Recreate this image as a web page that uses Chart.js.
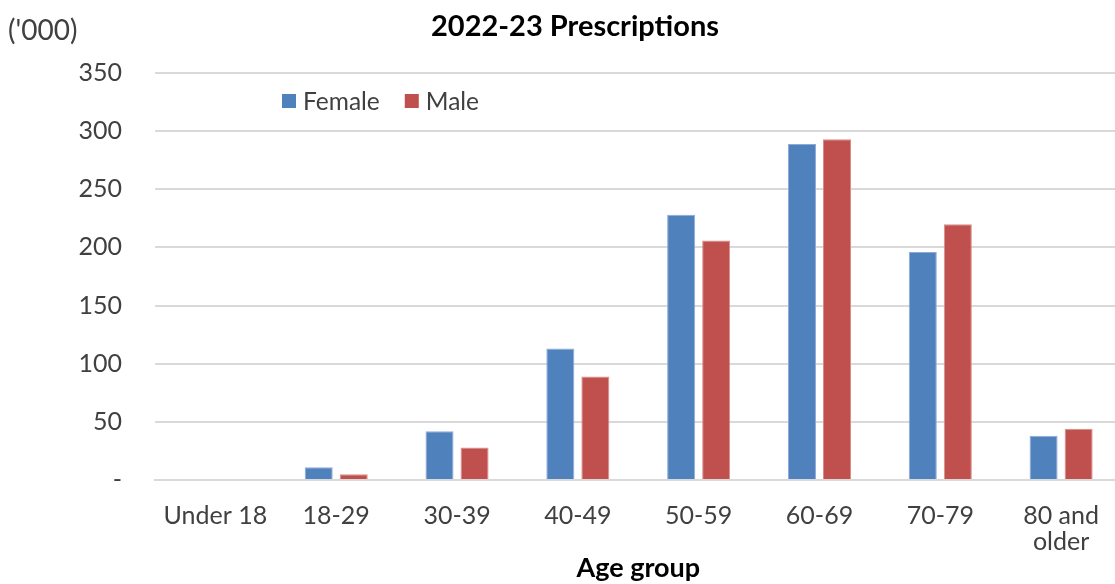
<!DOCTYPE html>
<html>
<head>
<meta charset="utf-8">
<script src="https://cdn.jsdelivr.net/npm/chart.js@4"></script>
<style>
  html, body { margin: 0; background: #fff; overflow: hidden; }
</style>
</head>
<body>
<canvas id="chart" width="1122" height="584"></canvas>
<script>
// 2022-23 prescriptions by age group ('000)
const ageGroups = ["Under 18", "18-29", "30-39", "40-49", "50-59", "60-69", "70-79", ["80 and", "older"]];
const female = [0, 11, 42, 113, 228, 289, 196, 38];
const male = [0, 5, 28, 89, 206, 293, 220, 44];
const yTicks = [0, 50, 100, 150, 200, 250, 300, 350];

const FONT = "Lato, 'Open Sans', sans-serif";
const GREY = "#404040";

// title, unit label and legend drawn on the canvas
const extras = {
    id: "extras",
    afterDraw(chart) {
        const ctx = chart.ctx;
        ctx.save();
        ctx.textBaseline = "middle";

        ctx.fillStyle = "#000";
        ctx.font = "bold 29px " + FONT;
        ctx.textAlign = "center";
        ctx.fillText("2022-23 Prescriptions", 575, 27);

        ctx.fillStyle = GREY;
        ctx.font = "28px " + FONT;
        ctx.textAlign = "left";
        ctx.fillText("('000)", 8, 31);

        // legend
        ctx.font = "24.5px " + FONT;
        let x = 282;
        chart.data.datasets.forEach(ds => {
            ctx.fillStyle = ds.backgroundColor;
            ctx.fillRect(x, 94, 14, 14);
            ctx.fillStyle = GREY;
            ctx.fillText(ds.label, x + 21, 102);
            x += 21 + ctx.measureText(ds.label).width + 25;
        });
        ctx.restore();
    }
};

new Chart(document.getElementById("chart"), {
    type: "bar",
    data: {
        labels: ageGroups,
        datasets: [
            {
                label: "Female",
                data: female,
                backgroundColor: "#4F81BD",
                borderColor: "#8DAAD6",
                borderWidth: 1
            },
            {
                label: "Male",
                data: male,
                backgroundColor: "#C0504D",
                borderColor: "#D88E8C",
                borderWidth: 1
            }
        ]
    },
    options: {
        responsive: false,
        animation: false,
        categoryPercentage: 0.58,
        barPercentage: 0.8,
        layout: { padding: { top: 73, right: 0, bottom: 0, left: 0 } },
        plugins: {
            legend: { display: false },
            title: { display: false },
            tooltip: { enabled: false }
        },
        scales: {
            x: {
                afterFit(scale) { scale.height = 104; },
                grid: { display: false, drawTicks: false },
                border: { color: "#D9D9D9", width: 2 },
                ticks: {
                    color: GREY,
                    font: { family: FONT, size: 25, lineHeight: 1.05 },
                    padding: 23,
                    maxRotation: 0,
                    autoSkip: false
                },
                title: {
                    display: true,
                    text: "Age group",
                    color: "#000",
                    font: { family: FONT, size: 27, weight: "bold", lineHeight: 1.2 },
                    padding: { top: 0, bottom: 0 }
                }
            },
            y: {
                min: 0,
                max: 350,
                afterFit(scale) { scale.width = 155; },
                afterBuildTicks(scale) { scale.ticks = yTicks.map(v => ({ value: v })); },
                grid: { color: "#D9D9D9", lineWidth: 2, drawTicks: false },
                border: { display: false },
                ticks: {
                    color: GREY,
                    font: { family: FONT, size: 25 },
                    padding: 33,
                    callback: v => v === 0 ? "-" : v
                }
            }
        }
    },
    plugins: [extras]
});
</script>
</body>
</html>
